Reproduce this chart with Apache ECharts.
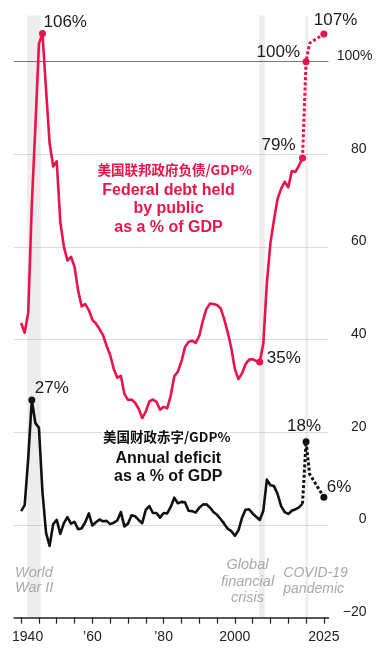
<!DOCTYPE html>
<html>
<head>
<meta charset="utf-8">
<script src="https://cdn.jsdelivr.net/npm/echarts@6/dist/echarts.min.js"></script>
<style>
html,body{margin:0;padding:0;background:#fff;}
#chart{width:379px;height:659px;}
</style>
</head>
<body>
<div id="chart"></div>
<script>
// ---------- DATA ----------
const firstYear = 1940;
// Federal debt held by public, % of GDP (1940-2019)
const debtHistory = [43.6,41.5,45.9,69.2,86.0,103.9,106.1,93.9,82.4,77.4,
  78.5,65.4,60.1,57.1,57.9,55.7,50.6,47.2,47.7,46.4,
  44.3,43.5,42.3,41.0,38.7,36.7,33.7,31.8,32.2,28.3,
  27.0,27.1,26.4,25.1,23.1,24.5,26.7,27.1,26.6,24.9,
  25.5,25.2,27.9,32.1,33.1,35.3,38.4,39.5,39.8,39.3,
  40.8,44.0,46.6,47.8,47.7,47.5,46.8,44.5,41.6,38.2,
  33.7,31.5,32.7,34.7,35.7,35.8,35.4,35.2,39.2,52.3,
  60.9,65.9,70.4,72.6,74.1,72.9,76.4,76.2,77.6,79.2];
// Annual deficit, % of GDP (1940-2019)
const deficitHistory = [3.0,4.3,14.5,27.0,22.0,21.0,7.0,-1.7,-4.5,0.2,
  1.1,-1.9,0.4,1.7,0.3,0.7,-0.9,-0.7,0.6,2.5,
  -0.1,0.6,1.2,0.8,0.9,0.2,0.5,1.0,2.8,-0.3,
  0.3,2.1,1.9,1.1,0.4,3.3,4.1,2.6,2.6,1.6,
  2.6,2.5,3.9,5.9,4.7,5.0,4.9,3.1,3.0,2.7,
  3.7,4.4,4.5,3.8,2.8,2.2,1.3,0.3,-0.8,-1.3,
  -2.3,-1.2,1.5,3.3,3.4,2.5,1.8,1.1,3.1,9.8,
  8.6,8.4,6.7,4.1,2.8,2.4,3.1,3.4,3.8,4.6];
// Projections (dotted)
const projYears = [2019, 2020, 2021, 2025];
const debtProjection = [79.2, 100, 104, 106];
const deficitProjection = [4.6, 18, 11, 6];

// Annotated points
const debtMarkYears = [1946, 2007, 2019, 2020, 2025];
const debtMarkText = ['106%', '35%', '79%', '100%', '107%'];
const deficitMarkYears = [1943, 2020, 2025];
const deficitMarkText = ['27%', '18%', '6%'];

// Shaded event bands [from, to]
const eventBands = [[1941.7, 1945.5], [2006.8, 2008.4], [2019.8, 2020.6]];

// Axis ticks & labels
const xTickYears = [1940,1945,1950,1955,1960,1965,1970,1975,1980,1985,1990,1995,2000,2005,2010,2015,2020,2025];
const xLabelYears = [1940, 1960, 1980, 2000, 2025];
const xLabelText = ['1940', '\u201960', '\u201980', '2000', '2025'];
const yMin = -20, yMax = 110, yStep = 20;

// ---------- BUILD ----------
const RED = '#e8144a';
const DARK = '#111';
const FONT = '"Liberation Sans", Arial, sans-serif';

function pairs(years, vals){ return vals.map((v,i)=>[years[i], v]); }
const histYears = debtHistory.map((_, i) => firstYear + i);

function lookup(hist, proj, yr){
  const i = histYears.indexOf(yr);
  if (i >= 0) return hist[i];
  return proj[projYears.indexOf(yr)];
}

// label placement styles (presentation only)
const debtLabelStyle = [
  {align:'left',  offset:[1,-11]},
  {align:'left',  offset:[7,-4]},
  {align:'right', offset:[-7,-13]},
  {align:'right', offset:[-6,-9]},
  {align:'left',  offset:[-10,-14]}
];
const deficitLabelStyle = [
  {align:'left',  offset:[3,-12]},
  {align:'center',offset:[-2,-15]},
  {align:'left',  offset:[3,-10]}
];

function markData(hist, proj, years, texts, styles){
  return years.map((yr, i) => ({
    value: [yr, lookup(hist, proj, yr)],
    label: Object.assign({show:true, formatter: texts[i], position:'inside', verticalAlign:'middle',
      color: '#1a1a1a', opacity: 1, textBorderWidth: 0, textBorderColor: 'transparent', fontSize: 17, fontFamily: FONT}, styles[i])
  }));
}

const chart = echarts.init(document.getElementById('chart'), null, {renderer:'canvas'});

const option = {
  animation: false,
  backgroundColor: '#fff',
  textStyle: {fontFamily: FONT},
  grid: {left: 14, right: 50.5, top: 15.4, bottom: 41.3, containLabel: false},
  xAxis: {
    type: 'value', min: 1938, max: 2026.3,
    splitLine: {show: false},
    axisLine: {show: true, onZero: false, lineStyle: {color: '#222', width: 1.5}},
    axisTick: {show: true, customValues: xTickYears, length: 6, lineStyle: {color: '#222', width: 1.2}},
    axisLabel: {
      customValues: xLabelYears, margin: 12, color: '#222', fontSize: 14, fontFamily: FONT,
      formatter: v => {
        const i = xLabelYears.indexOf(v);
        if (i === 0) return '{first|' + xLabelText[i] + '}';
        return i >= 0 ? xLabelText[i] : '';
      },
      rich: {first: {padding: [0,0,0,13], fontSize: 14, color: '#222', fontFamily: FONT}}
    }
  },
  yAxis: {
    type: 'value', position: 'right', min: yMin, max: yMax, interval: yStep,
    axisLine: {show: false}, axisTick: {show: false},
    splitLine: {show: true, showMaxLine: false,
      lineStyle: {width: 1, color: ['rgba(0,0,0,0)', '#dcdcdc', '#dcdcdc', '#dcdcdc', '#dcdcdc', '#dcdcdc', '#7a7a7a', 'rgba(0,0,0,0)']}},
    axisLabel: {
      align: 'right', margin: 38, color: '#222', fontSize: 14, fontFamily: FONT,
      verticalAlign: 'middle', padding: [0,0,11,0],
      formatter: v => {
        if (v > 100) return '';
        if (v === 100) return '{h|100%}';
        if (v < 0) return '\u2212' + Math.abs(v);
        return String(v);
      },
      rich: {h: {padding: [0,-6,0,0], fontSize: 14, color: '#222', fontFamily: FONT}}
    }
  },
  series: [
    {
      name: 'bands', type: 'line', data: [], silent: true,
      markArea: {silent: true, itemStyle: {color: 'rgba(0,0,0,0.07)'},
        data: eventBands.map(b => [{xAxis: b[0]}, {xAxis: b[1]}])}
    },
    {
      name: 'debt', type: 'line', data: pairs(histYears, debtHistory),
      showSymbol: false, smooth: false, z: 3,
      lineStyle: {color: RED, width: 2.6, join: 'round'}
    },
    {
      name: 'debtProj', type: 'line', data: pairs(projYears, debtProjection),
      showSymbol: false, z: 3,
      lineStyle: {color: RED, width: 3, type: [3, 2.2]}
    },
    {
      name: 'deficit', type: 'line', data: pairs(histYears, deficitHistory),
      showSymbol: false, z: 3,
      lineStyle: {color: DARK, width: 2.6, join: 'round'}
    },
    {
      name: 'deficitProj', type: 'line', data: pairs(projYears, deficitProjection),
      showSymbol: false, z: 3,
      lineStyle: {color: DARK, width: 3, type: [3, 2.2]}
    },
    {
      name: 'debtMarks', type: 'scatter', symbolSize: 7, z: 5,
      itemStyle: {color: RED, opacity: 1},
      data: markData(debtHistory, debtProjection, debtMarkYears, debtMarkText, debtLabelStyle)
    },
    {
      name: 'deficitMarks', type: 'scatter', symbolSize: 7, z: 5,
      itemStyle: {color: DARK, opacity: 1},
      data: markData(deficitHistory, deficitProjection, deficitMarkYears, deficitMarkText, deficitLabelStyle)
    }
  ],
  graphic: [
    {type:'text', x: 174.7, y: 169.5, z: 10,
      style: {text: '美国联邦政府负债/GDP%', fill: RED, stroke: '#fff', lineWidth: 3,
        font: 'bold 13.5px "Noto Sans CJK SC"', textAlign: 'center', textVerticalAlign: 'middle'}},
    {type:'text', x: 168.5, y: 181, z: 10,
      style: {text: 'Federal debt held\nby public\nas a % of GDP', fill: RED,
        font: 'bold 16px ' + FONT, lineHeight: 18.5, textAlign: 'center', textVerticalAlign: 'top'}},
    {type:'text', x: 166.7, y: 436.7, z: 10,
      style: {text: '美国财政赤字/GDP%', fill: '#111', stroke: '#fff', lineWidth: 3,
        font: 'bold 13.5px "Noto Sans CJK SC"', textAlign: 'center', textVerticalAlign: 'middle'}},
    {type:'text', x: 168.3, y: 449.5, z: 10,
      style: {text: 'Annual deficit\nas a % of GDP', fill: '#111',
        font: 'bold 16px ' + FONT, lineHeight: 18, textAlign: 'center', textVerticalAlign: 'top'}},
    {type:'text', x: 15, y: 565, z: 10,
      style: {text: 'World\nWar II', fill: '#a9a9a9',
        font: 'italic 14.5px ' + FONT, lineHeight: 15.5, textAlign: 'left', textVerticalAlign: 'top'}},
    {type:'text', x: 247.5, y: 557, z: 10,
      style: {text: 'Global\nfinancial\ncrisis', fill: '#a9a9a9',
        font: 'italic 14.5px ' + FONT, lineHeight: 16.5, textAlign: 'center', textVerticalAlign: 'top'}},
    {type:'text', x: 283.3, y: 565, z: 10,
      style: {text: 'COVID-19\npandemic', fill: '#a9a9a9',
        font: 'italic 14px ' + FONT, lineHeight: 16, textAlign: 'left', textVerticalAlign: 'top'}}
  ]
};
chart.setOption(option);
</script>
</body>
</html>
